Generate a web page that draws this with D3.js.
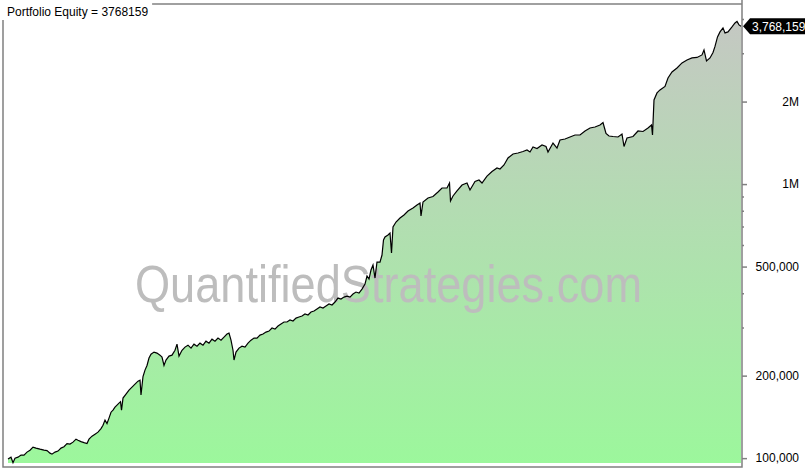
<!DOCTYPE html>
<html><head><meta charset="utf-8">
<script src="https://cdn.jsdelivr.net/npm/d3@7"></script>
<style>body{margin:0;background:#fff;} svg{display:block;}</style>
</head><body><svg id="c" width="805" height="469"></svg>
<script>
// bar index (session number) of each sampled equity reading
const bars = [0,6,10,14,20,26,32,38,44,50,
56,64,72,78,84,88,94,100,106,112,
118,124,130,136,140,146,152,158,162,168,
174,180,186,190,194,198,202,206,210,214,
218,222,225,227,230,236,242,248,254,260,
264,266,270,274,278,282,286,292,298,304,
308,312,316,322,328,334,338,342,348,354,
360,366,372,378,384,390,396,402,408,414,
420,426,432,438,442,446,450,452,456,462,
468,474,480,486,492,498,504,510,516,522,
528,534,540,546,552,558,564,570,576,582,
588,594,600,606,612,618,624,630,636,642,
648,654,660,666,672,678,684,690,696,702,
708,714,718,722,726,730,734,738,744,748,
751,754,760,764,767,770,776,784,792,800,
810,818,824,826,830,840,850,860,868,878,
883,885,890,898,908,918,924,934,942,948,
958,968,978,984,992,1000,1010,1020,1030,1038,
1044,1050,1058,1068,1076,1080,1090,1098,1104,1114,
1124,1134,1144,1154,1164,1174,1184,1190,1193,1196,
1202,1210,1220,1228,1232,1238,1250,1260,1270,1280,
1287,1289,1292,1298,1304,1314,1320,1328,1338,1348,
1358,1368,1378,1388,1392,1397,1404,1410,1414,1419,
1424,1430,1434,1440,1448,1454,1458,1462,1466];

// portfolio equity, thousands of dollars
const equityK = [99.2,100.8,96.3,100,100.8,102.6,102.6,105.2,106.9,109.7,
108.8,107.8,106.9,106.5,104.3,103.4,105.2,106.1,108.8,110.1,
113.0,112.5,114.4,117.3,116.3,114.9,113.9,113.0,117.3,120.3,
122.3,124.4,128.2,131.9,137.6,133.7,140.0,147.1,149.7,153.5,
156.1,158.7,160.7,149.7,165.6,171.2,177.1,181.6,186.2,190.9,
192.5,169.9,198.5,209.5,217.8,231.8,239.6,243.7,241.7,237.6,
233.8,217.8,228.0,235.7,237.6,247.6,260.6,235.7,247.6,254.2,
258.4,252.1,260.6,256.2,262.8,258.4,267.2,262.8,271.8,267.2,
274.2,269.4,276.5,283.6,285.9,269.4,247.6,228.0,243.7,252.1,
256.2,254.2,262.8,269.4,274.2,274.2,281.2,283.6,288.4,290.8,
298.3,295.8,303.4,308.6,313.9,313.9,319.2,316.5,324.4,327.2,
329.9,335.6,332.8,341.3,344.2,350.0,356.0,353.0,359.0,365.1,
362.0,371.3,383.8,380.6,387.0,390.3,387.0,396.9,403.7,400.3,
414.0,431.8,461.8,450.3,485.7,506.5,454.1,519.4,519.4,550.9,
625.0,641.0,651.9,663.0,560.3,697.1,727.1,752.0,771.2,797.6,
817.9,838.8,853.0,764.8,860.2,889.6,900.9,935.6,967.6,967.6,
1009.1,867.5,904.7,943.5,992.3,1009.1,951.5,1021.9,1034.9,1009.1,
1069.9,1111.0,1145,1135.4,1174.2,1245,1287.6,1298.4,1314.9,1331.7,
1309.4,1365.4,1348.3,1388.5,1371.2,1309.4,1412.1,1354,1448.4,1460.6,
1485.4,1510.6,1510.6,1562.3,1602,1615.5,1642.9,1677.9,1602,1529.7,
1497.9,1491.6,1485.4,1523.3,1371.2,1473,1491.6,1562.3,1555.7,1602,
1642.9,1510.6,2026.9,2150.4,2205.5,2271.5,2439,2565.1,2653,2766.8,
2837.6,2886,2898.2,2959.6,3086.9,2813.8,2886,3022.8,3178.9,3442.8,
3590.5,3714,3560.5,3590.5,3745.3,3873.3,3922.6,3808.7,3768.159];

const tickMajor = [100000, 200000, 500000, 1000000, 2000000];
const tickMajorLabels = ["100,000", "200,000", "500,000", "1M", "2M"];
const tickMinor = [300000, 400000, 600000, 700000, 800000, 900000, 3000000, 4000000];
const titleText = "Portfolio Equity = 3768159";
const lastLabel = "3,768,159";
const watermarkText = "QuantifiedStrategies.com";

const svg = d3.select("#c");
const W = 805, H = 469;
const plotL = 3, plotT = 4, plotR = 742, plotB = 467, areaB = 463;
const FONT = "Tahoma, 'Liberation Sans', Arial, sans-serif";

const n = Math.min(bars.length, equityK.length);
const data = d3.range(n).map(i => ({b: bars[i], v: equityK[i] * 1000}));

const x = d3.scaleLinear().domain([0, d3.max(bars)]).range([8, 741]);
const y = d3.scaleLog().domain([96000, 4540000]).range([areaB, plotT]);

const defs = svg.append("defs");
const grad = defs.append("linearGradient").attr("id", "g")
  .attr("gradientUnits", "userSpaceOnUse")
  .attr("x1", 0).attr("y1", plotT).attr("x2", 0).attr("y2", areaB);
grad.append("stop").attr("offset", 0).attr("stop-color", "#c6c6c4");
grad.append("stop").attr("offset", 1).attr("stop-color", "#9cf79c");

svg.append("rect").attr("width", W).attr("height", H).attr("fill", "#fff");

// area
svg.append("path").datum(data)
  .attr("fill", "url(#g)")
  .attr("d", d3.area().x(d => x(d.b)).y0(areaB).y1(d => y(d.v)));

// watermark
svg.append("text")
  .attr("x", 135).attr("y", 302)
  .attr("font-family", "'Liberation Sans', Arial, sans-serif")
  .attr("font-size", 52)
  .attr("textLength", 507).attr("lengthAdjust", "spacingAndGlyphs")
  .attr("fill", "#bdbdbd")
  .text(watermarkText);

// equity line
svg.append("path").datum(data)
  .attr("fill", "none").attr("stroke", "#000").attr("stroke-width", 1.2)
  .attr("d", d3.line().x(d => x(d.b)).y(d => y(d.v)));

// frame
const frame = svg.append("g").attr("stroke", "#808080").attr("stroke-width", 1.5).attr("fill", "none");
frame.append("path").attr("d", `M${plotL},${plotT}V${plotB}H${plotR}V0`);
frame.append("path").attr("d", `M${plotL},${plotT}H${plotR}`);

// axis
const axMajor = svg.append("g").attr("transform", `translate(${plotR},0)`)
  .call(d3.axisRight(y).tickValues(tickMajor).tickSize(5)
    .tickFormat(d => tickMajorLabels[tickMajor.indexOf(d)]));
axMajor.select(".domain").remove();
axMajor.selectAll("line").attr("stroke", "#808080").attr("stroke-width", 1.5);
axMajor.selectAll("text").attr("text-anchor", "end").attr("x", 799 - plotR)
  .attr("font-family", FONT).attr("font-size", 12).attr("fill", "#000");

const axMinor = svg.append("g").attr("transform", `translate(${plotR},0)`)
  .call(d3.axisRight(y).tickValues(tickMinor).tickSize(2).tickFormat(""));
axMinor.select(".domain").remove();
axMinor.selectAll("text").remove();
axMinor.selectAll("line").attr("stroke", "#808080").attr("stroke-width", 1.5);

// title
const tg = svg.append("g");
const tbg = tg.append("rect").attr("x", 0).attr("y", 0).attr("height", 20).attr("fill", "#fff");
const tt = tg.append("text").attr("x", 7).attr("y", 16)
  .attr("font-family", FONT).attr("font-size", 12)
  .attr("fill", "#000").text(titleText);
tbg.attr("width", 7 + tt.node().getComputedTextLength() + 4);

// last value marker
const last = data[n - 1];
const ly = y(last.v);
svg.append("path")
  .attr("d", `M${plotR + 1},${ly}L${plotR + 8},${ly - 8}H${W}V${ly + 8}H${plotR + 8}Z`)
  .attr("fill", "#000");
svg.append("text").attr("x", plotR + 10).attr("y", ly + 4.5)
  .attr("font-family", FONT).attr("font-size", 12)
  .attr("fill", "#fff").text(lastLabel);
</script>
</body></html>
